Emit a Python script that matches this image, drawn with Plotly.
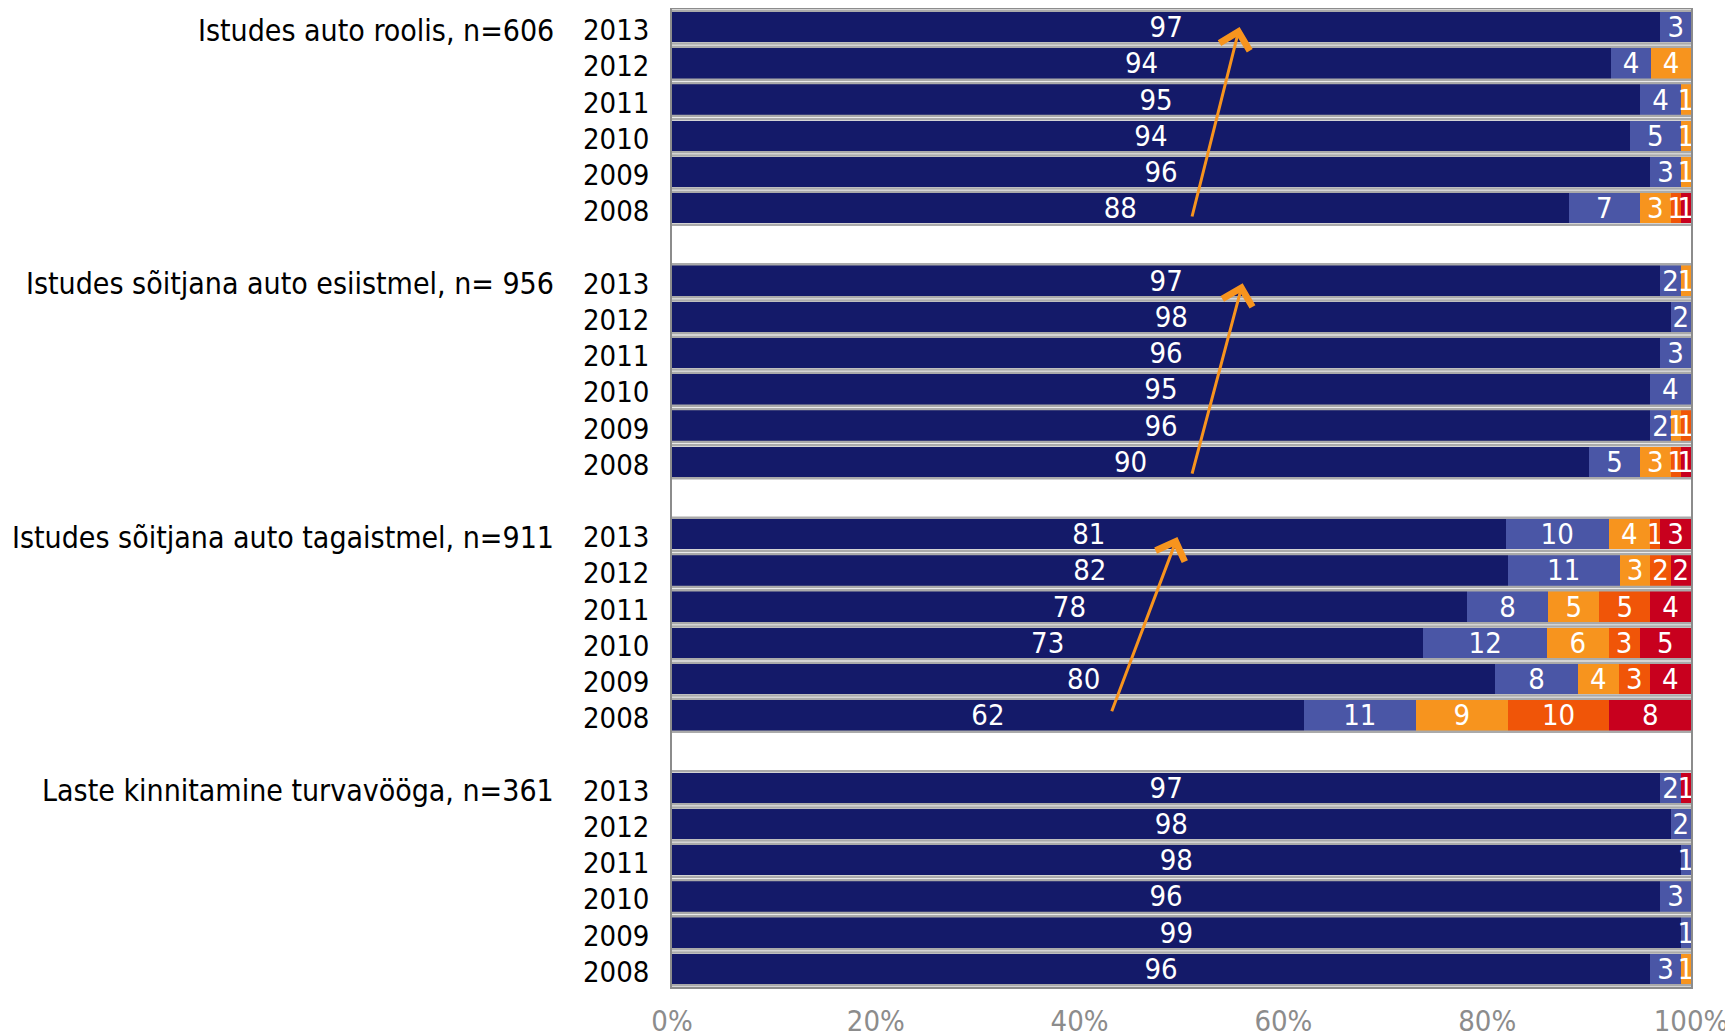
import plotly.graph_objects as go

groups = ["Istudes auto roolis, n=606",
          "Istudes sõitjana auto esiistmel, n= 956",
          "Istudes sõitjana auto tagaistmel, n=911",
          "Laste kinnitamine turvavööga, n=361"]
years = ["2013", "2012", "2011", "2010", "2009", "2008"]

# values per group, per year (2013..2008), five series
s1 = [[97, 94, 95, 94, 96, 88],
      [97, 98, 96, 95, 96, 90],
      [81, 82, 78, 73, 80, 62],
      [97, 98, 98, 96, 99, 96]]
s2 = [[3, 4, 4, 5, 3, 7],
      [2, 2, 3, 4, 2, 5],
      [10, 11, 8, 12, 8, 11],
      [2, 2, 1, 3, 1, 3]]
s3 = [[None, 4, 1, 1, 1, 3],
      [1, None, None, None, 1, 3],
      [4, 3, 5, 6, 4, 9],
      [None, None, None, None, None, 1]]
s4 = [[None, None, None, None, None, 1],
      [None, None, None, None, 1, 1],
      [1, 2, 5, 3, 3, 10],
      [None, None, None, None, None, None]]
s5 = [[None, None, None, None, None, 1],
      [None, None, None, None, None, 1],
      [3, 2, 4, 5, 4, 8],
      [1, None, None, None, None, None]]

series = [s1, s2, s3, s4, s5]
colors = ["#141a69", "#4a56a6", "#f7941e", "#f05508", "#c8001e"]

# arrows: (group, tail_x, tail_row, head_x, head_row) in data units
arrows = [(0, 51.0, 5.27, 55.7, 0.0),
          (1, 51.0, 5.37, 56.0, 0.07),
          (2, 43.1, 4.93, 49.6, 0.08)]

FONT = "DejaVu Sans Condensed, DejaVu Sans, sans-serif"
FS = 29

rows_per = len(years)
stride = rows_per + 1
ypos = []
ylab = []
for g in range(len(groups)):
    for r in range(rows_per):
        ypos.append(g * stride + r)
        ylab.append(years[r])

fig = go.Figure()
for k, s in enumerate(series):
    xs = []
    txt = []
    for g in range(len(groups)):
        for r in range(rows_per):
            v = s[g][r]
            xs.append(v)
            txt.append("" if v is None else str(v))
    fig.add_trace(go.Bar(
        y=ypos, x=xs, orientation="h", width=0.84,
        marker=dict(color=colors[k], line=dict(width=0)),
        text=txt, textposition="inside", insidetextanchor="middle",
        textangle=0,
        textfont=dict(color="white", size=FS, family=FONT),
        hoverinfo="skip", showlegend=False, cliponaxis=True,
    ))

shapes = []
for y in ypos:
    for off in (-0.455, 0.455):
        shapes.append(dict(type="line", xref="paper", yref="y", x0=0, x1=1,
                           y0=y + off, y1=y + off,
                           line=dict(color="#aaaaaa", width=2.5), layer="above"))

annotations = []
for g, name in enumerate(groups):
    annotations.append(dict(xref="paper", yref="y", x=0, y=g * stride,
                            xshift=-116, yshift=-3, xanchor="right", yanchor="middle",
                            text=name, showarrow=False,
                            font=dict(size=30, family=FONT, color="black")))
for y, lab in zip(ypos, ylab):
    annotations.append(dict(xref="paper", yref="y", x=0, y=y,
                            xshift=-21, yshift=-3, xanchor="right", yanchor="middle",
                            text=lab, showarrow=False,
                            font=dict(size=FS, family=FONT, color="black")))
for g, tx, ty, hx, hy in arrows:
    annotations.append(dict(xref="x", yref="y", axref="x", ayref="y",
                            x=hx, y=g * stride + hy, ax=tx, ay=g * stride + ty,
                            text="", showarrow=True, arrowhead=4, arrowsize=2,
                            arrowwidth=3, arrowcolor="#f7941e"))

fig.update_layout(
    barmode="stack", barnorm="percent",
    width=1725, height=1027,
    margin=dict(l=664, r=42, t=1, b=48, autoexpand=False),
    plot_bgcolor="white", paper_bgcolor="white",
    uniformtext=dict(minsize=FS, mode="show"),
    shapes=shapes, annotations=annotations,
    font=dict(family=FONT, size=FS),
)
fig.update_xaxes(range=[0, 100], tickvals=[0, 20, 40, 60, 80, 100],
                 ticktext=["0%", "20%", "40%", "60%", "80%", "100%"],
                 showgrid=False, zeroline=False, showline=True, mirror=True,
                 linecolor="#8c8c8c", linewidth=2, automargin=False,
                 tickfont=dict(color="#8c8c8c", size=FS, family=FONT),
                 ticks="", ticklabelstandoff=7)
fig.update_yaxes(range=[len(groups) * stride - 1 - 0.5, -0.5],
                 tickvals=ypos, showticklabels=False, automargin=False,
                 showgrid=False, zeroline=False, showline=True, mirror=True,
                 linecolor="#8c8c8c", linewidth=2, ticks="")

fig.write_html("out.html")
